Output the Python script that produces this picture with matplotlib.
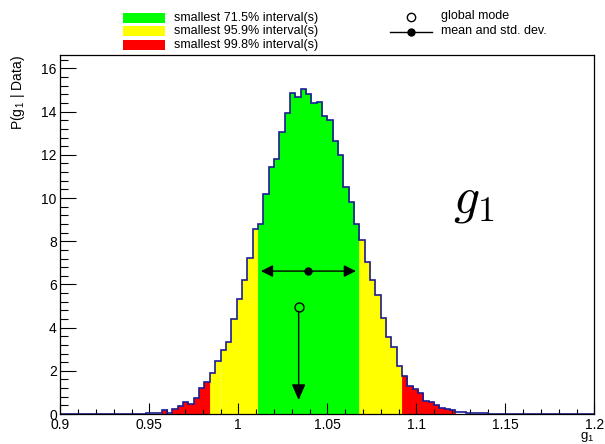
import numpy as np
import matplotlib
matplotlib.use("Agg")
import matplotlib.pyplot as plt
from matplotlib.patches import Rectangle
from matplotlib.lines import Line2D
from matplotlib.ticker import MultipleLocator

plt.rcParams['font.family'] = ['Liberation Sans', 'DejaVu Sans']
plt.rcParams['mathtext.fontset'] = 'cm'

# ---------------- data ----------------
bin_lo = 0.9
bin_width = 0.003
density = ([0.0] * 13 +
           [0.01, 0.01, 0.02, 0.03, 0.03, 0.05] +
           [0.19, 0.06, 0.23, 0.37, 0.57, 0.48, 0.75, 1.20, 1.50, 1.88] +
           [2.46, 2.96, 3.35, 4.38, 5.31, 6.21, 7.21, 8.55] +
           [8.80, 10.17, 11.46, 11.80, 13.08, 13.96, 14.85, 14.70, 15.04, 14.82] +
           [14.42, 14.45, 13.82, 13.62, 12.66, 12.00, 10.53, 9.83, 8.79, 8.06] +
           [7.06, 6.21, 5.51, 4.46, 3.58, 3.09, 2.22, 1.78, 1.30, 1.14] +
           [0.97, 0.58, 0.56, 0.42, 0.28, 0.24, 0.18, 0.08, 0.10, 0.05] +
           [0.04, 0.03, 0.03, 0.02, 0.02, 0.01, 0.02, 0.01, 0.01] +
           [0.0] * 14)
interval_labels = ["smallest 71.5% interval(s)",
                   "smallest 95.9% interval(s)",
                   "smallest 99.8% interval(s)"]
interval_thresholds = [8.7, 1.8, 0.12]   # density level bounding each interval
interval_colors = ["#00ff00", "#ffff00", "#ff0000"]
mean_value = 1.0394
std_value = 0.0267
mode_value = 1.0339
x_ticks = [0.9, 0.95, 1.0, 1.05, 1.1, 1.15, 1.2]
x_tick_labels = ["0.9", "0.95", "1", "1.05", "1.1", "1.15", "1.2"]
y_ticks = [0, 2, 4, 6, 8, 10, 12, 14, 16]

density = np.array(density)
edges = bin_lo + bin_width * np.arange(len(density) + 1)
hmax = density.max()

# ---------------- figure ----------------
W, H = 605, 444
fig = plt.figure(figsize=(W / 100, H / 100), dpi=100)
ax_l, ax_r, ax_t, ax_b = 60.3, 594.3, 55.5, 414
ax = fig.add_axes([ax_l / W, 1 - ax_b / H, (ax_r - ax_l) / W, (ax_b - ax_t) / H])

# fills per interval
for i, h in enumerate(density):
    col = None
    for thr, c in zip(interval_thresholds, interval_colors):
        if h >= thr:
            col = c
            break
    if col is not None:
        ax.bar(edges[i], h, width=bin_width, align='edge', color=col,
               edgecolor=col, linewidth=0.6, zorder=1)

ax.stairs(density, edges, color='#1c1c94', lw=1.2, zorder=2)

# mean +- std
y_mean = 0.44 * hmax
for end in (mean_value - std_value, mean_value + std_value):
    ax.annotate('', xy=(end, y_mean), xytext=(mean_value, y_mean),
                arrowprops=dict(arrowstyle='-|>,head_length=0.6,head_width=0.3',
                                mutation_scale=12, color='black', lw=1,
                                shrinkA=0, shrinkB=0), zorder=4)
ax.plot([mean_value], [y_mean], 'o', color='black', ms=5, zorder=5)

# global mode
y_mode = 0.33 * hmax
ax.plot([mode_value], [y_mode], 'o', mfc='none', mec='black', ms=6.5, mew=1, zorder=5)
ax.annotate('', xy=(mode_value, 0.043 * hmax), xytext=(mode_value, y_mode),
            arrowprops=dict(arrowstyle='-|>,head_length=0.8,head_width=0.35',
                            mutation_scale=12, color='black', lw=1,
                            shrinkA=3.3, shrinkB=0), zorder=4)

ax.text(1.1205, 9.35, r'$g_1$', fontsize=37, ha='left', va='baseline')

# axes styling
ax.set_xlim(0.9, 1.2)
ax.set_ylim(0, 16.6)
ax.set_xticks(x_ticks)
ax.set_xticklabels(x_tick_labels)
ax.set_yticks(y_ticks)
ax.xaxis.set_minor_locator(MultipleLocator(0.01))
ax.yaxis.set_minor_locator(MultipleLocator(0.4))
ax.tick_params(axis='x', which='major', direction='in', length=7.7, width=0.8,
               labelsize=10, pad=3, top=False)
ax.tick_params(axis='x', which='minor', direction='in', length=3.9, width=0.8, top=False)
ax.tick_params(axis='y', which='major', direction='in', length=11.5, width=0.8,
               labelsize=10, pad=2.5, right=False)
ax.tick_params(axis='y', which='minor', direction='in', length=5.8, width=0.8, right=False)
for s in ax.spines.values():
    s.set_linewidth(0.9)
    s.set_zorder(6)

fig.text(18 / W, 1 - 55 / H, r'P(g$_\mathregular{1}$ | Data)', rotation=90,
         ha='center', va='top', fontsize=10)
fig.text(595 / W, 1 - 439 / H, r'g$_\mathregular{1}$', ha='right', va='baseline',
         fontsize=9.5)

# legend (manual)
rows_y = [17.7, 31, 45]
for y, lab, c in zip(rows_y, interval_labels, interval_colors):
    fig.patches.append(Rectangle((122.7 / W, 1 - (y + 5) / H), 42.3 / W, 10 / H,
                                 transform=fig.transFigure, facecolor=c,
                                 edgecolor='none', figure=fig))
    fig.text(174 / W, 1 - y / H, lab, ha='left', va='center', fontsize=9)

fig.lines.append(Line2D([410.7 / W], [1 - 16.7 / H], marker='o', mfc='none',
                        mec='black', ms=6, mew=1, transform=fig.transFigure, figure=fig))
fig.lines.append(Line2D([390 / W, 431.7 / W], [1 - 31.7 / H, 1 - 31.7 / H],
                        color='black', lw=1, marker=None,
                        transform=fig.transFigure, figure=fig))
fig.lines.append(Line2D([410.7 / W], [1 - 31.7 / H], marker='o', color='black',
                        ms=5, transform=fig.transFigure, figure=fig))
fig.text(440.7 / W, 1 - 16 / H, "global mode", ha='left', va='center', fontsize=9)
fig.text(440.7 / W, 1 - 31 / H, "mean and std. dev.", ha='left', va='center', fontsize=9)

fig.savefig("out.png", dpi=100)
